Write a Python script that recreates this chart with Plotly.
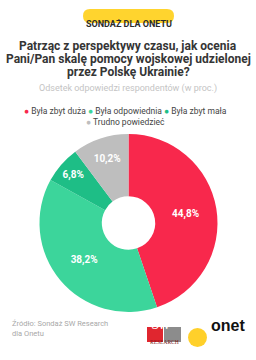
import plotly.graph_objects as go

W, H = 256, 360

labels = ["Była zbyt duża", "Była odpowiednia", "Była zbyt mała", "Trudno powiedzieć"]
values = [44.8, 38.2, 6.8, 10.2]
colors = ["#F8284C", "#3CD59B", "#1EBE86", "#BEBEBE"]

badge_text = "SONDAŻ DLA ONETU"
title_lines = ["Patrząc z perspektywy czasu, jak ocenia",
               "Pani/Pan skalę pomocy wojskowej udzielonej",
               "przez Polskę Ukrainie?"]
subtitle = "Odsetek odpowiedzi respondentów (w proc.)"
source_lines = ["Źródło: Sondaż SW Research", "dla Onetu"]

FONT = "Roboto"


def X(px):
    return px / W


def Y(py):
    return 1 - py / H


texts = [f"{v:.1f}%".replace(".", ",") for v in values]

fig = go.Figure()
fig.add_trace(go.Pie(
    labels=labels, values=values, text=texts, textinfo="text",
    sort=False, direction="clockwise", rotation=0, hole=0.30,
    marker=dict(colors=colors, line=dict(width=0)),
    textposition="inside", insidetextorientation="horizontal",
    textfont=dict(family=FONT, size=10, color="white", weight="bold"),
    domain=dict(x=[X(39), X(218)], y=[Y(312), Y(134)]),
    showlegend=False, hoverinfo="label+percent",
))

shapes = []
# yellow pill badge
x0, x1, y0, y1, r = 83, 174, 9, 23, 7
path = (f"M {X(x0 + r)} {Y(y0)} L {X(x1 - r)} {Y(y0)} "
        f"Q {X(x1)} {Y(y0)} {X(x1)} {Y(y0 + r)} Q {X(x1)} {Y(y1)} {X(x1 - r)} {Y(y1)} "
        f"L {X(x0 + r)} {Y(y1)} Q {X(x0)} {Y(y1)} {X(x0)} {Y(y0 + r)} "
        f"Q {X(x0)} {Y(y0)} {X(x0 + r)} {Y(y0)} Z")
shapes.append(dict(type="path", xref="paper", yref="paper", path=path,
                   fillcolor="#FFD42E", line=dict(width=0)))
# SW Research logo
shapes.append(dict(type="rect", xref="paper", yref="paper", x0=X(147), x1=X(163),
                   y0=Y(342), y1=Y(327), fillcolor="#E0262F", line=dict(width=0)))
shapes.append(dict(type="rect", xref="paper", yref="paper", x0=X(164), x1=X(181),
                   y0=Y(342), y1=Y(327), fillcolor="#8C8C8C", line=dict(width=0)))
# onet dot
shapes.append(dict(type="circle", xref="paper", yref="paper", x0=X(188), x1=X(207),
                   y0=Y(347), y1=Y(328), fillcolor="#FFD02A", line=dict(width=0)))

ann = []
ann.append(dict(text=f"<b>{badge_text}</b>", x=X(128.5), y=Y(16), showarrow=False,
                xref="paper", yref="paper", font=dict(family=FONT, size=9, color="#2b2b2b")))
for line, py in zip(title_lines, [37.5, 50.5, 63]):
    ann.append(dict(text=f"<b>{line}</b>", x=X(128), y=Y(py), showarrow=False,
                    xref="paper", yref="paper", font=dict(family=FONT, size=12, color="#353535")))
ann.append(dict(text=subtitle, x=X(128), y=Y(80.5), showarrow=False, xref="paper", yref="paper",
                font=dict(family=FONT, size=9, color="#C4C4C4")))


def item(i):
    return f"<span style='color:{colors[i]}'>●</span> {labels[i]}"


row1 = " ".join(item(i) for i in range(3))
row2 = item(3)
ann.append(dict(text=row1, x=X(125), y=Y(104), showarrow=False, xref="paper", yref="paper",
                font=dict(family=FONT, size=8.5, color="#444444")))
ann.append(dict(text=row2, x=X(125), y=Y(115), showarrow=False, xref="paper", yref="paper",
                font=dict(family=FONT, size=8.5, color="#444444")))

ann.append(dict(text="<br>".join(source_lines), x=X(10), y=Y(340), xanchor="left", align="left",
                showarrow=False, xref="paper", yref="paper",
                font=dict(family=FONT, size=7.5, color="#A8A8A8")))

ann.append(dict(text="S", x=X(155), y=Y(334), showarrow=False, xref="paper", yref="paper",
                font=dict(family="DejaVu Serif", size=12, color="white")))
ann.append(dict(text="W", x=X(172.5), y=Y(334), showarrow=False, xref="paper", yref="paper",
                font=dict(family="DejaVu Serif", size=12, color="white")))
ann.append(dict(text="RESEARCH", x=X(164), y=Y(346.5), showarrow=False, xref="paper", yref="paper",
                font=dict(family="Liberation Serif", size=5.5, color="#7a1a1a")))
ann.append(dict(text="<b>onet</b>", x=X(209), y=Y(336), xanchor="left", showarrow=False,
                xref="paper", yref="paper",
                font=dict(family="Liberation Sans", size=16, color="#111111")))

fig.update_layout(
    width=W, height=H, margin=dict(l=0, r=0, t=0, b=0),
    paper_bgcolor="white", plot_bgcolor="white",
    shapes=shapes, annotations=ann, showlegend=False,
)

fig.write_html("out.html", config={"displayModeBar": False})
